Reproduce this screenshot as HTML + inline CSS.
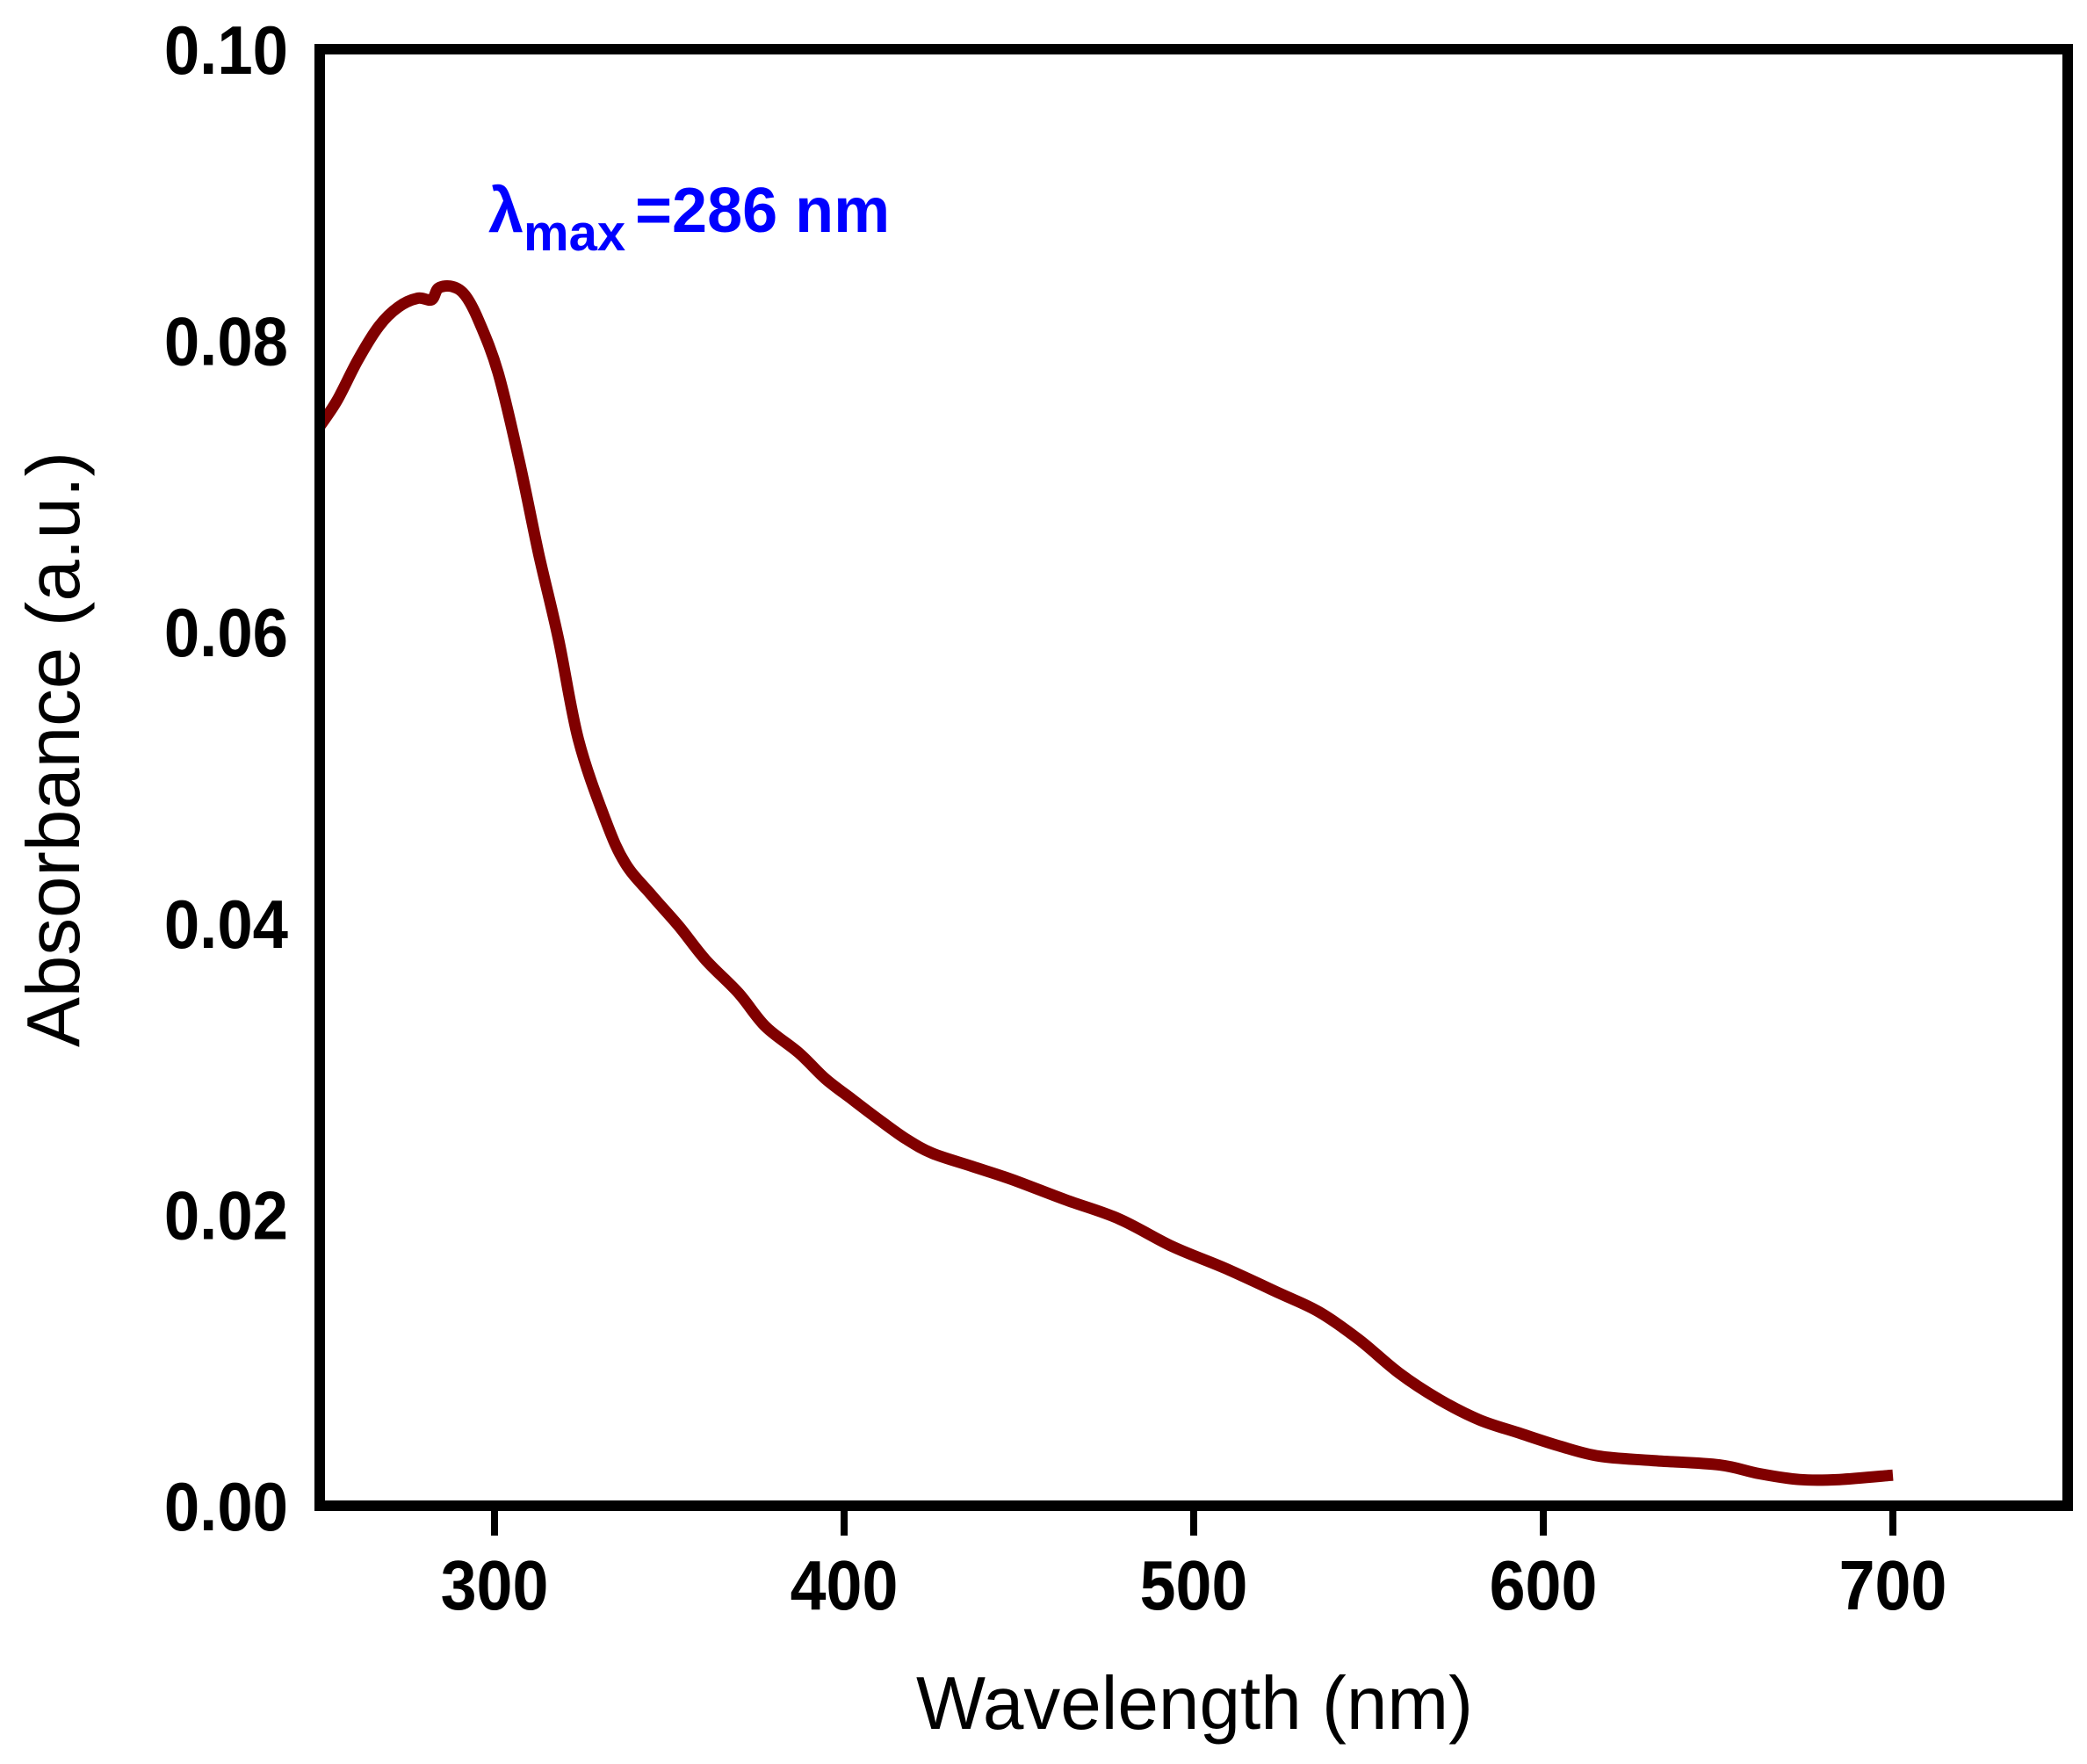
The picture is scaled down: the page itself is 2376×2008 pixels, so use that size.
<!DOCTYPE html>
<html><head><meta charset="utf-8"><style>
html,body{margin:0;padding:0;background:#fff;}
svg{display:block;}
text{font-family:"Liberation Sans",sans-serif;}
</style></head>
<body>
<svg id="chart" width="2376" height="2008" viewBox="0 0 2376 2008" xmlns="http://www.w3.org/2000/svg">
<g id="plot"></g>
<text x="556" y="264" fill="#0000ff" font-weight="bold" font-size="72">λ<tspan font-size="58" dy="21">max</tspan><tspan x="723" dy="-21">=286 nm</tspan></text>
<text x="1360" y="1968" text-anchor="middle" font-size="85" textLength="634" lengthAdjust="spacingAndGlyphs">Wavelength (nm)</text>
<text transform="translate(90,853) rotate(-90)" text-anchor="middle" font-size="85" textLength="678" lengthAdjust="spacingAndGlyphs">Absorbance (a.u.)</text>
</svg>
<script>
const wavelengths = [250,255,261,267,272.5,278,282,284,288,291.6,295.4,301,307,312.6,318.3,324,331.7,337.4,345,352.7,360.3,369.8,377.5,387,394.7,402.3,410,417.6,425.2,436.6,448,463.4,478.6,493.9,509,524.4,535.9,547.3,558.8,570.2,581.7,593,604.6,616,631.3,650.4,661.8,673.3,684.7,700];
const absorbance = [0.0741,0.0759,0.0787,0.0810,0.0823,0.0829,0.0828,0.0836,0.0837,0.0831,0.0814,0.0778,0.0718,0.0654,0.0595,0.0526,0.0471,0.0441,0.0419,0.0398,0.0375,0.0352,0.0329,0.0311,0.0293,0.0279,0.0265,0.0252,0.0242,0.0233,0.0224,0.0210,0.0197,0.0178,0.0163,0.0146,0.0133,0.0114,0.0091,0.0073,0.0059,0.0050,0.0041,0.0034,0.0031,0.0028,0.0022,0.0018,0.0018,0.0021];
const xTicks = [300,400,500,600,700];
const yTicks = [0,0.02,0.04,0.06,0.08,0.10];
const yTickLabels = ["0.00","0.02","0.04","0.06","0.08","0.10"];

const X0=250,X1=750,Y0=0,Y1=0.1;
const PL=364,PR=2354,PT=56,PB=1714;
function xs(v){return PL+(v-X0)/(X1-X0)*(PR-PL);}
function ys(v){return PB-(v-Y0)/(Y1-Y0)*(PB-PT);}
const NS="http://www.w3.org/2000/svg";
const g=document.getElementById('plot');
function mk(tag,attrs){const e=document.createElementNS(NS,tag);for(const k in attrs)e.setAttribute(k,attrs[k]);g.appendChild(e);return e;}

// curve (smoothed through data points)
const pts=wavelengths.map((w,i)=>[xs(w),ys(absorbance[i])]);
let d='M'+pts[0][0].toFixed(1)+','+pts[0][1].toFixed(1);
for(let i=0;i<pts.length-1;i++){
  const p0=pts[Math.max(0,i-1)],p1=pts[i],p2=pts[i+1],p3=pts[Math.min(pts.length-1,i+2)];
  const c1x=p1[0]+(p2[0]-p0[0])/6,c1y=p1[1]+(p2[1]-p0[1])/6;
  const c2x=p2[0]-(p3[0]-p1[0])/6,c2y=p2[1]-(p3[1]-p1[1])/6;
  d+='C'+c1x.toFixed(1)+','+c1y.toFixed(1)+' '+c2x.toFixed(1)+','+c2y.toFixed(1)+' '+p2[0].toFixed(1)+','+p2[1].toFixed(1);
}
const path=mk('path',{d:d,fill:'none',stroke:'#800000','stroke-width':13,'stroke-linejoin':'round','stroke-linecap':'butt'});



// frame
const frame=mk('rect',{x:PL,y:PT,width:PR-PL,height:PB-PT,fill:'none',stroke:'#000','stroke-width':12});



// x ticks
xTicks.forEach(t=>{
  const l=mk('line',{x1:xs(t),x2:xs(t),y1:PB+6,y2:PB+34,stroke:'#000','stroke-width':8});
  
  
  const tx=mk('text',{x:0,y:0,'text-anchor':'middle','font-size':80,'font-weight':'bold',transform:'translate('+xs(t)+',1832) scale(0.92,1)'});
  tx.textContent=String(t);
  
  
});
// y tick labels
yTicks.forEach((t,i)=>{
  const tx=mk('text',{x:0,y:0,'text-anchor':'end','font-size':78,'font-weight':'bold',transform:'translate(328,'+(ys(t)+28)+') scale(0.93,1)'});
  tx.textContent=yTickLabels[i];
  
  
});
</script>
</body></html>
